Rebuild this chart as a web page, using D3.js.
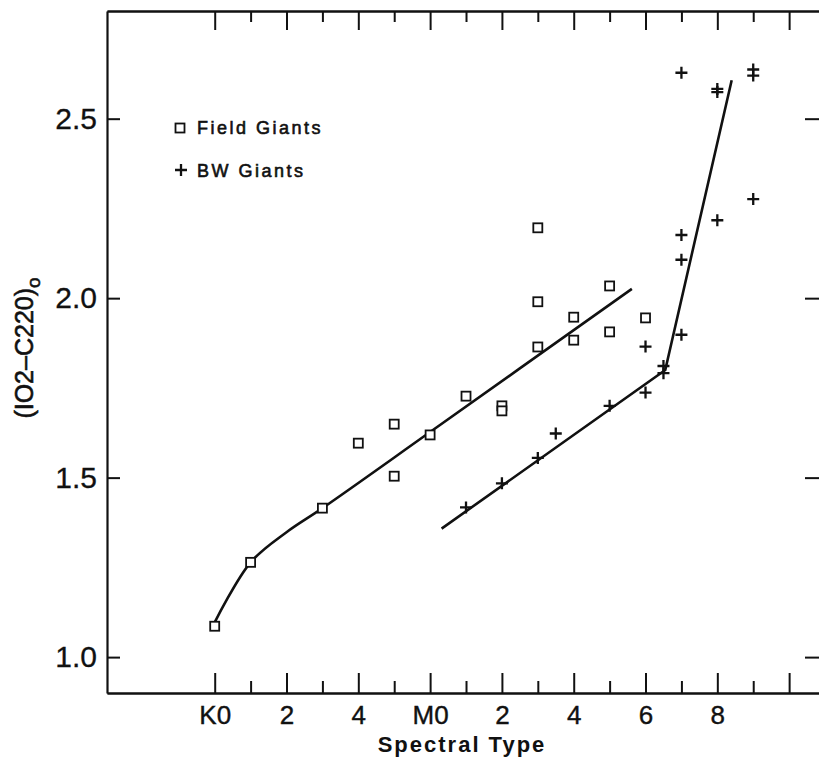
<!DOCTYPE html>
<html>
<head>
<meta charset="utf-8">
<script src="https://cdn.jsdelivr.net/npm/d3@7"></script>
<style>
  body { margin: 0; background: #fff; }
  svg { display: block; }
  text { fill: #111; font-family: "Liberation Sans", Arial, sans-serif; }
</style>
</head>
<body>
<svg id="chart"></svg>
<script>
//data (x = subtype index, K0 = 0 ... M0 = 6 ... M8 = 14)
var fieldType  = [0, 1, 3, 4, 5, 5, 6, 7, 8, 8, 9, 9, 9, 10, 10, 11, 11, 12];
var fieldColor = [1.086, 1.264, 1.415, 1.596, 1.649, 1.504, 1.619, 1.727, 1.700, 1.686,
                  1.864, 1.990, 2.196, 1.947, 1.883, 2.034, 1.906, 1.945];
var bwType  = [7, 8, 9, 9.5, 11, 12, 12, 12.5, 12.5, 13, 13, 13, 13, 14, 14, 14, 15, 15, 15];
var bwColor = [1.417, 1.484, 1.555, 1.623, 1.700, 1.737, 1.865, 1.811, 1.791, 1.898,
               2.107, 2.176, 2.628, 2.583, 2.574, 2.217, 2.637, 2.620, 2.276];
//fitted curves drawn in the figure
var fieldFitType  = [0, 1, 2, 3, 6, 11.62];
var fieldFitColor = [1.097, 1.264, 1.348, 1.415, 1.627, 2.026];
var bwFitType  = [6.32, 12.55, 14.4];
var bwFitColor = [1.358, 1.800, 2.607];
//tick labels
var majorTicks = [0, 2, 4, 6, 8, 10, 12, 14, 16];
var minorTicks = [1, 3, 5, 7, 9, 11, 13, 15];
var majorLabels = ["K0", "2", "4", "M0", "2", "4", "6", "8", ""];
var yTicks = [1.0, 1.5, 2.0, 2.5];
var legendNames = ["Field Giants", "BW Giants"];

var width = 819, height = 762;
var margin = { left: 107, right: 820, top: 11, bottom: 693 };
var ink = "#111";

var svg = d3.select("#chart").attr("width", width).attr("height", height);

//scales
var x = d3.scaleLinear().domain([-3, 16.86]).range([margin.left, margin.right]);
var y = d3.scaleLinear().domain([0.9, 2.8]).range([margin.bottom, margin.top]);

//style an axis group: thick black lines
function styleAxis(g) {
    g.select(".domain").attr("stroke", ink).attr("stroke-width", 2.2);
    g.selectAll(".tick line").attr("stroke", ink).attr("stroke-width", 2);
}
//scanned text looks a bit heavier than plain regular
function heavy(sel, w) {
    sel.attr("stroke", ink).attr("stroke-width", w).attr("fill", ink);
}

//bottom axis, major ticks with labels and minor ticks
var xMajor = svg.append("g")
    .attr("transform", "translate(0," + margin.bottom + ")")
    .call(d3.axisBottom(x).tickValues(majorTicks).tickSizeInner(-20).tickSizeOuter(0)
        .tickPadding(13).tickFormat(function(d, i) { return majorLabels[i]; }));
xMajor.selectAll("text").attr("font-size", 26).attr("dy", "0.7em").call(heavy, 0.4);
styleAxis(xMajor);
styleAxis(svg.append("g")
    .attr("transform", "translate(0," + margin.bottom + ")")
    .call(d3.axisBottom(x).tickValues(minorTicks).tickSizeInner(-12).tickSizeOuter(0).tickFormat("")));

//top axis, ticks only
styleAxis(svg.append("g")
    .attr("transform", "translate(0," + margin.top + ")")
    .call(d3.axisTop(x).tickValues(majorTicks).tickSizeInner(-19).tickSizeOuter(0).tickFormat("")));
styleAxis(svg.append("g")
    .attr("transform", "translate(0," + margin.top + ")")
    .call(d3.axisTop(x).tickValues(minorTicks).tickSizeInner(-11).tickSizeOuter(0).tickFormat("")));

//left axis with labels
var yaxis = svg.append("g")
    .attr("transform", "translate(" + margin.left + ",0)")
    .call(d3.axisLeft(y).tickValues(yTicks).tickSizeInner(-13).tickSizeOuter(0)
        .tickPadding(10).tickFormat(d3.format(".1f")));
yaxis.selectAll("text").attr("font-size", 30).call(heavy, 0.3);
styleAxis(yaxis);

//right axis, ticks only
styleAxis(svg.append("g")
    .attr("transform", "translate(" + margin.right + ",0)")
    .call(d3.axisRight(y).tickValues(yTicks).tickSizeInner(-15).tickSizeOuter(0).tickFormat("")));

//axis titles
svg.append("text")
    .attr("x", 462).attr("y", 752)
    .attr("text-anchor", "middle")
    .attr("font-size", 22).attr("font-weight", "bold")
    .attr("letter-spacing", 2)
    .text("Spectral Type");

var yTitle = svg.append("text")
    .attr("transform", "translate(33,348) rotate(-90)")
    .attr("text-anchor", "middle")
    .attr("font-size", 25)
    .call(heavy, 0.6);
yTitle.append("tspan").text("(IO2\u2013C220)");
yTitle.append("tspan").attr("font-size", 19).attr("dy", 7).text("o");

//fit lines
var line = d3.line()
    .x(function(d) { return x(d[0]); })
    .y(function(d) { return y(d[1]); });

svg.append("path")
    .datum(d3.zip(fieldFitType, fieldFitColor))
    .attr("d", line.curve(d3.curveCatmullRom.alpha(0.5)))
    .attr("fill", "none").attr("stroke", ink).attr("stroke-width", 2.6);

svg.append("path")
    .datum(d3.zip(bwFitType, bwFitColor))
    .attr("d", line.curve(d3.curveLinear))
    .attr("fill", "none").attr("stroke", ink).attr("stroke-width", 2.6);

//marker shapes
var boxSize = 9;
var plusPath = "M-6,0H6M0,-6V6";

function addBox(sel) {
    return sel.append("rect")
        .attr("x", -boxSize / 2).attr("y", -boxSize / 2)
        .attr("width", boxSize).attr("height", boxSize)
        .attr("fill", "#fff").attr("stroke", ink).attr("stroke-width", 1.8);
}
function addPlus(sel) {
    return sel.append("path").attr("d", plusPath)
        .attr("stroke", ink).attr("stroke-width", 2.3).attr("fill", "none");
}

//field giants
var boxes = svg.append("g").selectAll("g")
    .data(d3.zip(fieldType, fieldColor)).enter().append("g")
    .attr("transform", function(d) { return "translate(" + x(d[0]) + "," + y(d[1]) + ")"; });
addBox(boxes);

//Baade's window giants
var pluses = svg.append("g").selectAll("g")
    .data(d3.zip(bwType, bwColor)).enter().append("g")
    .attr("transform", function(d) { return "translate(" + x(d[0]) + "," + y(d[1]) + ")"; });
addPlus(pluses);

//legend
var legend = svg.append("g");
var item1 = legend.append("g").attr("transform", "translate(180,128)");
addBox(item1);
var item2 = legend.append("g").attr("transform", "translate(181,170)");
addPlus(item2);
legend.selectAll("text.leg")
    .data(legendNames).enter().append("text")
    .attr("class", "leg")
    .attr("x", 197)
    .attr("y", function(d, i) { return i == 0 ? 134 : 177; })
    .attr("font-size", 18)
    .attr("letter-spacing", 2.5)
    .text(function(d) { return d; })
    .call(heavy, 0.6);
</script>
</body>
</html>
